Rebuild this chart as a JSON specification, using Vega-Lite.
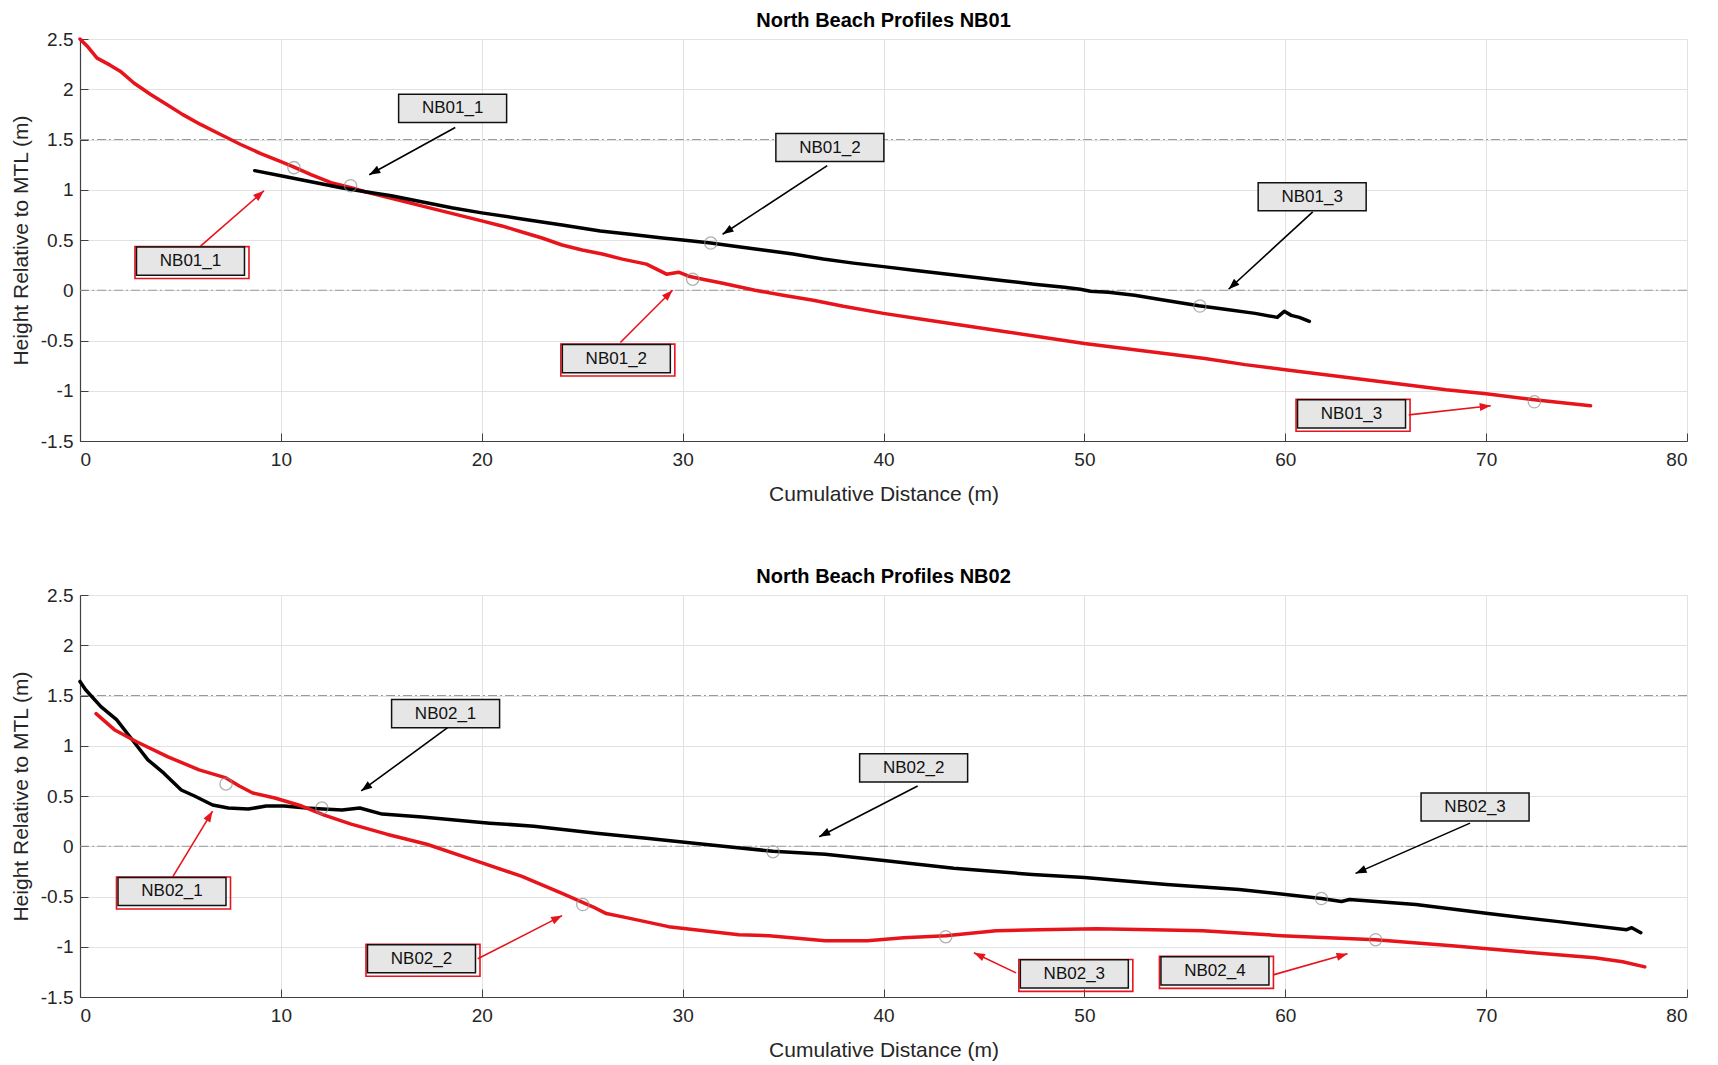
{
  "$schema": "https://vega.github.io/schema/vega-lite/v6.json",
  "background": "white",
  "padding": {"left": 10, "top": 11, "right": 25, "bottom": 5},
  "spacing": 63,
  "config": {
    "view": {"stroke": null},
    "font": "Liberation Sans",
    "axis": {
      "gridColor": "#e2e2e2", "gridWidth": 1,
      "domainColor": "#404040", "domainWidth": 1.2,
      "tickColor": "#404040", "tickSize": -8,
      "labelFont": "Liberation Sans", "labelFontSize": 19, "labelColor": "#262626",
      "titleFont": "Liberation Sans", "titleFontSize": 21, "titleFontWeight": "normal", "titleColor": "#262626"
    },
    "title": {"font": "Liberation Sans", "fontSize": 20, "fontWeight": "bold", "color": "#000000", "offset": -1, "anchor": "middle"}
  },
  "datasets": {
    "refs": [{"h": 1.5}, {"h": 0}],
    "profiles": [
      {"panel": "NB01", "survey": "B", "d": 0, "h": 2.5},
      {"panel": "NB01", "survey": "B", "d": 0.4, "h": 2.42},
      {"panel": "NB01", "survey": "B", "d": 0.85, "h": 2.31},
      {"panel": "NB01", "survey": "B", "d": 1.5, "h": 2.24},
      {"panel": "NB01", "survey": "B", "d": 2, "h": 2.18},
      {"panel": "NB01", "survey": "B", "d": 2.7, "h": 2.06},
      {"panel": "NB01", "survey": "B", "d": 3.5, "h": 1.95},
      {"panel": "NB01", "survey": "B", "d": 4.3, "h": 1.85},
      {"panel": "NB01", "survey": "B", "d": 5.1, "h": 1.75},
      {"panel": "NB01", "survey": "B", "d": 6, "h": 1.65},
      {"panel": "NB01", "survey": "B", "d": 7, "h": 1.55},
      {"panel": "NB01", "survey": "B", "d": 8, "h": 1.45},
      {"panel": "NB01", "survey": "B", "d": 9, "h": 1.36},
      {"panel": "NB01", "survey": "B", "d": 10, "h": 1.28},
      {"panel": "NB01", "survey": "B", "d": 10.6, "h": 1.23},
      {"panel": "NB01", "survey": "B", "d": 11.5, "h": 1.15},
      {"panel": "NB01", "survey": "B", "d": 12.5, "h": 1.07},
      {"panel": "NB01", "survey": "B", "d": 13.5, "h": 1.02},
      {"panel": "NB01", "survey": "B", "d": 14.2, "h": 0.98},
      {"panel": "NB01", "survey": "B", "d": 15, "h": 0.94},
      {"panel": "NB01", "survey": "B", "d": 16, "h": 0.89},
      {"panel": "NB01", "survey": "B", "d": 17, "h": 0.84},
      {"panel": "NB01", "survey": "B", "d": 18, "h": 0.79},
      {"panel": "NB01", "survey": "B", "d": 19, "h": 0.74},
      {"panel": "NB01", "survey": "B", "d": 20, "h": 0.69},
      {"panel": "NB01", "survey": "B", "d": 21, "h": 0.64},
      {"panel": "NB01", "survey": "B", "d": 22, "h": 0.58},
      {"panel": "NB01", "survey": "B", "d": 23, "h": 0.52},
      {"panel": "NB01", "survey": "B", "d": 24, "h": 0.45},
      {"panel": "NB01", "survey": "B", "d": 25, "h": 0.4},
      {"panel": "NB01", "survey": "B", "d": 26, "h": 0.36},
      {"panel": "NB01", "survey": "B", "d": 27, "h": 0.31},
      {"panel": "NB01", "survey": "B", "d": 28.2, "h": 0.26},
      {"panel": "NB01", "survey": "B", "d": 28.7, "h": 0.21},
      {"panel": "NB01", "survey": "B", "d": 29.2, "h": 0.16},
      {"panel": "NB01", "survey": "B", "d": 29.8, "h": 0.18},
      {"panel": "NB01", "survey": "B", "d": 30.3, "h": 0.14},
      {"panel": "NB01", "survey": "B", "d": 31, "h": 0.11},
      {"panel": "NB01", "survey": "B", "d": 32, "h": 0.07},
      {"panel": "NB01", "survey": "B", "d": 33.6, "h": 0.0},
      {"panel": "NB01", "survey": "B", "d": 35, "h": -0.05},
      {"panel": "NB01", "survey": "B", "d": 36.5, "h": -0.1},
      {"panel": "NB01", "survey": "B", "d": 38, "h": -0.16},
      {"panel": "NB01", "survey": "B", "d": 40, "h": -0.23},
      {"panel": "NB01", "survey": "B", "d": 42, "h": -0.29},
      {"panel": "NB01", "survey": "B", "d": 44, "h": -0.35},
      {"panel": "NB01", "survey": "B", "d": 46, "h": -0.41},
      {"panel": "NB01", "survey": "B", "d": 48, "h": -0.47},
      {"panel": "NB01", "survey": "B", "d": 50, "h": -0.53},
      {"panel": "NB01", "survey": "B", "d": 52, "h": -0.58},
      {"panel": "NB01", "survey": "B", "d": 54, "h": -0.63},
      {"panel": "NB01", "survey": "B", "d": 56, "h": -0.68},
      {"panel": "NB01", "survey": "B", "d": 58, "h": -0.74},
      {"panel": "NB01", "survey": "B", "d": 60, "h": -0.79},
      {"panel": "NB01", "survey": "B", "d": 62, "h": -0.84},
      {"panel": "NB01", "survey": "B", "d": 64, "h": -0.89},
      {"panel": "NB01", "survey": "B", "d": 66, "h": -0.94},
      {"panel": "NB01", "survey": "B", "d": 68, "h": -0.99},
      {"panel": "NB01", "survey": "B", "d": 70, "h": -1.03},
      {"panel": "NB01", "survey": "B", "d": 72.4, "h": -1.09},
      {"panel": "NB01", "survey": "B", "d": 75.2, "h": -1.15},

      {"panel": "NB01", "survey": "A", "d": 8.7, "h": 1.19},
      {"panel": "NB01", "survey": "A", "d": 10, "h": 1.14},
      {"panel": "NB01", "survey": "A", "d": 11, "h": 1.1},
      {"panel": "NB01", "survey": "A", "d": 12, "h": 1.06},
      {"panel": "NB01", "survey": "A", "d": 13, "h": 1.02},
      {"panel": "NB01", "survey": "A", "d": 14.2, "h": 0.98},
      {"panel": "NB01", "survey": "A", "d": 15.5, "h": 0.94},
      {"panel": "NB01", "survey": "A", "d": 17, "h": 0.88},
      {"panel": "NB01", "survey": "A", "d": 18.5, "h": 0.82},
      {"panel": "NB01", "survey": "A", "d": 20, "h": 0.77},
      {"panel": "NB01", "survey": "A", "d": 22, "h": 0.71},
      {"panel": "NB01", "survey": "A", "d": 24, "h": 0.65},
      {"panel": "NB01", "survey": "A", "d": 25.9, "h": 0.59},
      {"panel": "NB01", "survey": "A", "d": 27.5, "h": 0.555},
      {"panel": "NB01", "survey": "A", "d": 29, "h": 0.52},
      {"panel": "NB01", "survey": "A", "d": 30, "h": 0.5},
      {"panel": "NB01", "survey": "A", "d": 31.4, "h": 0.47},
      {"panel": "NB01", "survey": "A", "d": 32.5, "h": 0.44},
      {"panel": "NB01", "survey": "A", "d": 34, "h": 0.4},
      {"panel": "NB01", "survey": "A", "d": 35.5, "h": 0.36},
      {"panel": "NB01", "survey": "A", "d": 37, "h": 0.31},
      {"panel": "NB01", "survey": "A", "d": 38.5, "h": 0.27},
      {"panel": "NB01", "survey": "A", "d": 40, "h": 0.235},
      {"panel": "NB01", "survey": "A", "d": 41.5, "h": 0.2},
      {"panel": "NB01", "survey": "A", "d": 43, "h": 0.165},
      {"panel": "NB01", "survey": "A", "d": 44.5, "h": 0.13},
      {"panel": "NB01", "survey": "A", "d": 46, "h": 0.095},
      {"panel": "NB01", "survey": "A", "d": 47.5, "h": 0.06},
      {"panel": "NB01", "survey": "A", "d": 49, "h": 0.03},
      {"panel": "NB01", "survey": "A", "d": 49.8, "h": 0.01},
      {"panel": "NB01", "survey": "A", "d": 50.3, "h": -0.01},
      {"panel": "NB01", "survey": "A", "d": 51.2, "h": -0.02},
      {"panel": "NB01", "survey": "A", "d": 52.5, "h": -0.05},
      {"panel": "NB01", "survey": "A", "d": 54, "h": -0.1},
      {"panel": "NB01", "survey": "A", "d": 55.7, "h": -0.155},
      {"panel": "NB01", "survey": "A", "d": 57, "h": -0.19},
      {"panel": "NB01", "survey": "A", "d": 58.5, "h": -0.23},
      {"panel": "NB01", "survey": "A", "d": 59.6, "h": -0.27},
      {"panel": "NB01", "survey": "A", "d": 59.95, "h": -0.21},
      {"panel": "NB01", "survey": "A", "d": 60.3, "h": -0.25},
      {"panel": "NB01", "survey": "A", "d": 60.7, "h": -0.27},
      {"panel": "NB01", "survey": "A", "d": 61.2, "h": -0.31},

      {"panel": "NB02", "survey": "A", "d": 0, "h": 1.64},
      {"panel": "NB02", "survey": "A", "d": 0.27, "h": 1.56},
      {"panel": "NB02", "survey": "A", "d": 1.04, "h": 1.39},
      {"panel": "NB02", "survey": "A", "d": 1.82, "h": 1.26},
      {"panel": "NB02", "survey": "A", "d": 2.6, "h": 1.06},
      {"panel": "NB02", "survey": "A", "d": 3.38, "h": 0.86},
      {"panel": "NB02", "survey": "A", "d": 4.16, "h": 0.73},
      {"panel": "NB02", "survey": "A", "d": 5.04, "h": 0.56},
      {"panel": "NB02", "survey": "A", "d": 5.7, "h": 0.5},
      {"panel": "NB02", "survey": "A", "d": 6.6, "h": 0.41},
      {"panel": "NB02", "survey": "A", "d": 7.38, "h": 0.38},
      {"panel": "NB02", "survey": "A", "d": 8.38, "h": 0.37},
      {"panel": "NB02", "survey": "A", "d": 9.27, "h": 0.4},
      {"panel": "NB02", "survey": "A", "d": 10.16, "h": 0.4},
      {"panel": "NB02", "survey": "A", "d": 11.27, "h": 0.38},
      {"panel": "NB02", "survey": "A", "d": 12.1, "h": 0.37},
      {"panel": "NB02", "survey": "A", "d": 13.04, "h": 0.36},
      {"panel": "NB02", "survey": "A", "d": 13.93, "h": 0.38},
      {"panel": "NB02", "survey": "A", "d": 15.04, "h": 0.32},
      {"panel": "NB02", "survey": "A", "d": 17.04, "h": 0.29},
      {"panel": "NB02", "survey": "A", "d": 20.4, "h": 0.23},
      {"panel": "NB02", "survey": "A", "d": 22.6, "h": 0.2},
      {"panel": "NB02", "survey": "A", "d": 25.7, "h": 0.13},
      {"panel": "NB02", "survey": "A", "d": 28.2, "h": 0.08},
      {"panel": "NB02", "survey": "A", "d": 30.1, "h": 0.04},
      {"panel": "NB02", "survey": "A", "d": 32.5, "h": -0.01},
      {"panel": "NB02", "survey": "A", "d": 34.5, "h": -0.05},
      {"panel": "NB02", "survey": "A", "d": 37.1, "h": -0.08},
      {"panel": "NB02", "survey": "A", "d": 39.9, "h": -0.14},
      {"panel": "NB02", "survey": "A", "d": 43.5, "h": -0.22},
      {"panel": "NB02", "survey": "A", "d": 47.4, "h": -0.28},
      {"panel": "NB02", "survey": "A", "d": 50, "h": -0.31},
      {"panel": "NB02", "survey": "A", "d": 54.1, "h": -0.38},
      {"panel": "NB02", "survey": "A", "d": 57.7, "h": -0.43},
      {"panel": "NB02", "survey": "A", "d": 61.8, "h": -0.52},
      {"panel": "NB02", "survey": "A", "d": 62.8, "h": -0.55},
      {"panel": "NB02", "survey": "A", "d": 63.2, "h": -0.53},
      {"panel": "NB02", "survey": "A", "d": 66.5, "h": -0.58},
      {"panel": "NB02", "survey": "A", "d": 70.1, "h": -0.67},
      {"panel": "NB02", "survey": "A", "d": 73.6, "h": -0.75},
      {"panel": "NB02", "survey": "A", "d": 77, "h": -0.83},
      {"panel": "NB02", "survey": "A", "d": 77.25, "h": -0.81},
      {"panel": "NB02", "survey": "A", "d": 77.7, "h": -0.86},

      {"panel": "NB02", "survey": "B", "d": 0.8, "h": 1.32},
      {"panel": "NB02", "survey": "B", "d": 1.71, "h": 1.16},
      {"panel": "NB02", "survey": "B", "d": 2.82, "h": 1.04},
      {"panel": "NB02", "survey": "B", "d": 4.38, "h": 0.89},
      {"panel": "NB02", "survey": "B", "d": 5.93, "h": 0.76},
      {"panel": "NB02", "survey": "B", "d": 7.27, "h": 0.68},
      {"panel": "NB02", "survey": "B", "d": 7.93, "h": 0.6},
      {"panel": "NB02", "survey": "B", "d": 8.6, "h": 0.53},
      {"panel": "NB02", "survey": "B", "d": 9.7, "h": 0.48},
      {"panel": "NB02", "survey": "B", "d": 11.04, "h": 0.4},
      {"panel": "NB02", "survey": "B", "d": 12.16, "h": 0.31},
      {"panel": "NB02", "survey": "B", "d": 13.5, "h": 0.22},
      {"panel": "NB02", "survey": "B", "d": 15.27, "h": 0.12},
      {"panel": "NB02", "survey": "B", "d": 17.27, "h": 0.02},
      {"panel": "NB02", "survey": "B", "d": 19.5, "h": -0.13},
      {"panel": "NB02", "survey": "B", "d": 22, "h": -0.3},
      {"panel": "NB02", "survey": "B", "d": 24, "h": -0.47},
      {"panel": "NB02", "survey": "B", "d": 25.5, "h": -0.6},
      {"panel": "NB02", "survey": "B", "d": 26.2, "h": -0.67},
      {"panel": "NB02", "survey": "B", "d": 27.2, "h": -0.71},
      {"panel": "NB02", "survey": "B", "d": 29.3, "h": -0.8},
      {"panel": "NB02", "survey": "B", "d": 32.8, "h": -0.88},
      {"panel": "NB02", "survey": "B", "d": 34.3, "h": -0.89},
      {"panel": "NB02", "survey": "B", "d": 37.1, "h": -0.94},
      {"panel": "NB02", "survey": "B", "d": 39.2, "h": -0.94},
      {"panel": "NB02", "survey": "B", "d": 41, "h": -0.91},
      {"panel": "NB02", "survey": "B", "d": 43.1, "h": -0.89},
      {"panel": "NB02", "survey": "B", "d": 45.6, "h": -0.84},
      {"panel": "NB02", "survey": "B", "d": 47.7, "h": -0.83},
      {"panel": "NB02", "survey": "B", "d": 50.6, "h": -0.82},
      {"panel": "NB02", "survey": "B", "d": 53.4, "h": -0.83},
      {"panel": "NB02", "survey": "B", "d": 55.9, "h": -0.84},
      {"panel": "NB02", "survey": "B", "d": 59.8, "h": -0.89},
      {"panel": "NB02", "survey": "B", "d": 64.5, "h": -0.93},
      {"panel": "NB02", "survey": "B", "d": 68.3, "h": -0.99},
      {"panel": "NB02", "survey": "B", "d": 71.8, "h": -1.05},
      {"panel": "NB02", "survey": "B", "d": 75.4, "h": -1.11},
      {"panel": "NB02", "survey": "B", "d": 76.8, "h": -1.15},
      {"panel": "NB02", "survey": "B", "d": 77.9, "h": -1.2}
    ],
    "markers": [
      {"panel": "NB01", "d": 10.65, "h": 1.22},
      {"panel": "NB01", "d": 13.47, "h": 1.04},
      {"panel": "NB01", "d": 30.5, "h": 0.11},
      {"panel": "NB01", "d": 31.4, "h": 0.47},
      {"panel": "NB01", "d": 55.75, "h": -0.157},
      {"panel": "NB01", "d": 72.4, "h": -1.11},
      {"panel": "NB02", "d": 7.27, "h": 0.62},
      {"panel": "NB02", "d": 12.04, "h": 0.38},
      {"panel": "NB02", "d": 25.03, "h": -0.58},
      {"panel": "NB02", "d": 34.5, "h": -0.054},
      {"panel": "NB02", "d": 43.1, "h": -0.9},
      {"panel": "NB02", "d": 61.8, "h": -0.52},
      {"panel": "NB02", "d": 64.5, "h": -0.93}
    ],
    "arrows": [
      {"panel": "NB01", "survey": "A", "d1": 18.68, "h1": 1.62, "d2": 14.4, "h2": 1.15},
      {"panel": "NB01", "survey": "A", "d1": 37.2, "h1": 1.24, "d2": 31.99, "h2": 0.557},
      {"panel": "NB01", "survey": "A", "d1": 61.37, "h1": 0.78, "d2": 57.18, "h2": 0.01},
      {"panel": "NB01", "survey": "B", "d1": 6.0, "h1": 0.44, "d2": 9.16, "h2": 0.99},
      {"panel": "NB01", "survey": "B", "d1": 26.9, "h1": -0.52, "d2": 29.5, "h2": 0.0},
      {"panel": "NB01", "survey": "B", "d1": 66.15, "h1": -1.24, "d2": 70.23, "h2": -1.15},
      {"panel": "NB02", "survey": "A", "d1": 18.3, "h1": 1.18, "d2": 14.0, "h2": 0.55},
      {"panel": "NB02", "survey": "A", "d1": 41.7, "h1": 0.6, "d2": 36.8, "h2": 0.095},
      {"panel": "NB02", "survey": "A", "d1": 69.2, "h1": 0.23, "d2": 63.5, "h2": -0.27},
      {"panel": "NB02", "survey": "B", "d1": 4.63, "h1": -0.3, "d2": 6.6, "h2": 0.35},
      {"panel": "NB02", "survey": "B", "d1": 19.8, "h1": -1.12, "d2": 24.0, "h2": -0.69},
      {"panel": "NB02", "survey": "B", "d1": 46.6, "h1": -1.26, "d2": 44.5, "h2": -1.06},
      {"panel": "NB02", "survey": "B", "d1": 59.4, "h1": -1.28, "d2": 63.1, "h2": -1.07}
    ],
    "labels": [
      {"panel": "NB01", "survey": "A", "d": 18.55, "h": 1.81, "text": "NB01_1"},
      {"panel": "NB01", "survey": "A", "d": 37.33, "h": 1.42, "text": "NB01_2"},
      {"panel": "NB01", "survey": "A", "d": 61.34, "h": 0.93, "text": "NB01_3"},
      {"panel": "NB01", "survey": "B", "d": 5.5, "h": 0.29, "text": "NB01_1"},
      {"panel": "NB01", "survey": "B", "d": 26.7, "h": -0.68, "text": "NB01_2"},
      {"panel": "NB01", "survey": "B", "d": 63.3, "h": -1.23, "text": "NB01_3"},
      {"panel": "NB02", "survey": "A", "d": 18.2, "h": 1.32, "text": "NB02_1"},
      {"panel": "NB02", "survey": "A", "d": 41.5, "h": 0.78, "text": "NB02_2"},
      {"panel": "NB02", "survey": "A", "d": 69.45, "h": 0.39, "text": "NB02_3"},
      {"panel": "NB02", "survey": "B", "d": 4.58, "h": -0.45, "text": "NB02_1"},
      {"panel": "NB02", "survey": "B", "d": 17.0, "h": -1.12, "text": "NB02_2"},
      {"panel": "NB02", "survey": "B", "d": 49.5, "h": -1.27, "text": "NB02_3"},
      {"panel": "NB02", "survey": "B", "d": 56.5, "h": -1.24, "text": "NB02_4"}
    ]
  },
  "vconcat": [
    {
      "title": "North Beach Profiles NB01",
      "width": 1607, "height": 402,
      "layer": [
        {"data": {"name": "refs"}, "mark": {"type": "rule", "color": "#9a9a9a", "strokeWidth": 1.2, "strokeDash": [9, 3, 2, 3]},
         "encoding": {"y": {"field": "h", "type": "quantitative"}}},
        {"data": {"name": "profiles"}, "transform": [{"filter": "datum.panel === 'NB01'"}],
         "mark": {"type": "line", "strokeWidth": 3.5, "strokeJoin": "round", "strokeCap": "round"},
         "encoding": {
           "x": {"field": "d", "type": "quantitative", "scale": {"domain": [0, 80], "nice": false, "zero": false},
                 "axis": {"values": [0, 10, 20, 30, 40, 50, 60, 70, 80], "title": "Cumulative Distance (m)", "labelPadding": 17, "titlePadding": 14}},
           "y": {"field": "h", "type": "quantitative", "scale": {"domain": [-1.5, 2.5], "nice": false, "zero": false},
                 "axis": {"values": [-1.5, -1, -0.5, 0, 0.5, 1, 1.5, 2, 2.5], "labelExpr": "'' + datum.value", "title": "Height Relative to MTL (m)", "labelPadding": 15, "titlePadding": 9}},
           "color": {"field": "survey", "type": "nominal", "scale": {"domain": ["A", "B"], "range": ["#000000", "#e8141c"]}, "legend": null}
         }},
        {"data": {"name": "markers"}, "transform": [{"filter": "datum.panel === 'NB01'"}],
         "mark": {"type": "point", "shape": "circle", "filled": false, "size": 150, "strokeWidth": 1.3, "color": "#8f8f8f"},
         "encoding": {"x": {"field": "d", "type": "quantitative"}, "y": {"field": "h", "type": "quantitative"}}},
        {"data": {"name": "arrows"}, "transform": [{"filter": "datum.panel === 'NB01'"}],
         "mark": {"type": "rule", "strokeWidth": 1.6},
         "encoding": {"x": {"field": "d1", "type": "quantitative"}, "y": {"field": "h1", "type": "quantitative"},
                      "x2": {"field": "d2"}, "y2": {"field": "h2"},
                      "color": {"field": "survey", "type": "nominal", "legend": null}}},
        {"data": {"name": "arrows"}, "transform": [{"filter": "datum.panel === 'NB01'"},
           {"calculate": "atan2((datum.d2 - datum.d1) * 20.09, (datum.h2 - datum.h1) * 100.5) * 180 / PI", "as": "ang"}],
         "mark": {"type": "point", "shape": "M0,0L-0.4,1.1L0.4,1.1Z", "filled": true, "size": 400, "opacity": 1},
         "encoding": {"x": {"field": "d2", "type": "quantitative"}, "y": {"field": "h2", "type": "quantitative"},
                      "angle": {"field": "ang", "type": "quantitative", "scale": null},
                      "color": {"field": "survey", "type": "nominal", "legend": null}}},
        {"data": {"name": "labels"}, "transform": [{"filter": "datum.panel === 'NB01' && datum.survey === 'B'"}],
         "mark": {"type": "point", "shape": "M-1,-0.28L1,-0.28L1,0.28L-1,0.28Z", "filled": false, "size": 12996, "stroke": "#e8141c", "strokeWidth": 1.6, "xOffset": 1.5, "yOffset": 1.5, "opacity": 1},
         "encoding": {"x": {"field": "d", "type": "quantitative"}, "y": {"field": "h", "type": "quantitative"}}},
        {"data": {"name": "labels"}, "transform": [{"filter": "datum.panel === 'NB01'"}],
         "mark": {"type": "point", "shape": "M-1,-0.26L1,-0.26L1,0.26L-1,0.26Z", "filled": true, "size": 11664, "fill": "#e6e6e6", "stroke": "#111111", "strokeWidth": 1.5, "opacity": 1},
         "encoding": {"x": {"field": "d", "type": "quantitative"}, "y": {"field": "h", "type": "quantitative"}}},
        {"data": {"name": "labels"}, "transform": [{"filter": "datum.panel === 'NB01'"}],
         "mark": {"type": "text", "font": "Liberation Sans", "fontSize": 17, "color": "#111111", "align": "center", "baseline": "middle"},
         "encoding": {"x": {"field": "d", "type": "quantitative"}, "y": {"field": "h", "type": "quantitative"}, "text": {"field": "text"}}}
      ]
    },
    {
      "title": "North Beach Profiles NB02",
      "width": 1607, "height": 402,
      "layer": [
        {"data": {"name": "refs"}, "mark": {"type": "rule", "color": "#9a9a9a", "strokeWidth": 1.2, "strokeDash": [9, 3, 2, 3]},
         "encoding": {"y": {"field": "h", "type": "quantitative"}}},
        {"data": {"name": "profiles"}, "transform": [{"filter": "datum.panel === 'NB02'"}],
         "mark": {"type": "line", "strokeWidth": 3.5, "strokeJoin": "round", "strokeCap": "round"},
         "encoding": {
           "x": {"field": "d", "type": "quantitative", "scale": {"domain": [0, 80], "nice": false, "zero": false},
                 "axis": {"values": [0, 10, 20, 30, 40, 50, 60, 70, 80], "title": "Cumulative Distance (m)", "labelPadding": 17, "titlePadding": 14}},
           "y": {"field": "h", "type": "quantitative", "scale": {"domain": [-1.5, 2.5], "nice": false, "zero": false},
                 "axis": {"values": [-1.5, -1, -0.5, 0, 0.5, 1, 1.5, 2, 2.5], "labelExpr": "'' + datum.value", "title": "Height Relative to MTL (m)", "labelPadding": 15, "titlePadding": 9}},
           "color": {"field": "survey", "type": "nominal", "scale": {"domain": ["A", "B"], "range": ["#000000", "#e8141c"]}, "legend": null}
         }},
        {"data": {"name": "markers"}, "transform": [{"filter": "datum.panel === 'NB02'"}],
         "mark": {"type": "point", "shape": "circle", "filled": false, "size": 150, "strokeWidth": 1.3, "color": "#8f8f8f"},
         "encoding": {"x": {"field": "d", "type": "quantitative"}, "y": {"field": "h", "type": "quantitative"}}},
        {"data": {"name": "arrows"}, "transform": [{"filter": "datum.panel === 'NB02'"}],
         "mark": {"type": "rule", "strokeWidth": 1.6},
         "encoding": {"x": {"field": "d1", "type": "quantitative"}, "y": {"field": "h1", "type": "quantitative"},
                      "x2": {"field": "d2"}, "y2": {"field": "h2"},
                      "color": {"field": "survey", "type": "nominal", "legend": null}}},
        {"data": {"name": "arrows"}, "transform": [{"filter": "datum.panel === 'NB02'"},
           {"calculate": "atan2((datum.d2 - datum.d1) * 20.09, (datum.h2 - datum.h1) * 100.5) * 180 / PI", "as": "ang"}],
         "mark": {"type": "point", "shape": "M0,0L-0.4,1.1L0.4,1.1Z", "filled": true, "size": 400, "opacity": 1},
         "encoding": {"x": {"field": "d2", "type": "quantitative"}, "y": {"field": "h2", "type": "quantitative"},
                      "angle": {"field": "ang", "type": "quantitative", "scale": null},
                      "color": {"field": "survey", "type": "nominal", "legend": null}}},
        {"data": {"name": "labels"}, "transform": [{"filter": "datum.panel === 'NB02' && datum.survey === 'B'"}],
         "mark": {"type": "point", "shape": "M-1,-0.28L1,-0.28L1,0.28L-1,0.28Z", "filled": false, "size": 12996, "stroke": "#e8141c", "strokeWidth": 1.6, "xOffset": 1.5, "yOffset": 1.5, "opacity": 1},
         "encoding": {"x": {"field": "d", "type": "quantitative"}, "y": {"field": "h", "type": "quantitative"}}},
        {"data": {"name": "labels"}, "transform": [{"filter": "datum.panel === 'NB02'"}],
         "mark": {"type": "point", "shape": "M-1,-0.26L1,-0.26L1,0.26L-1,0.26Z", "filled": true, "size": 11664, "fill": "#e6e6e6", "stroke": "#111111", "strokeWidth": 1.5, "opacity": 1},
         "encoding": {"x": {"field": "d", "type": "quantitative"}, "y": {"field": "h", "type": "quantitative"}}},
        {"data": {"name": "labels"}, "transform": [{"filter": "datum.panel === 'NB02'"}],
         "mark": {"type": "text", "font": "Liberation Sans", "fontSize": 17, "color": "#111111", "align": "center", "baseline": "middle"},
         "encoding": {"x": {"field": "d", "type": "quantitative"}, "y": {"field": "h", "type": "quantitative"}, "text": {"field": "text"}}}
      ]
    }
  ]
}
